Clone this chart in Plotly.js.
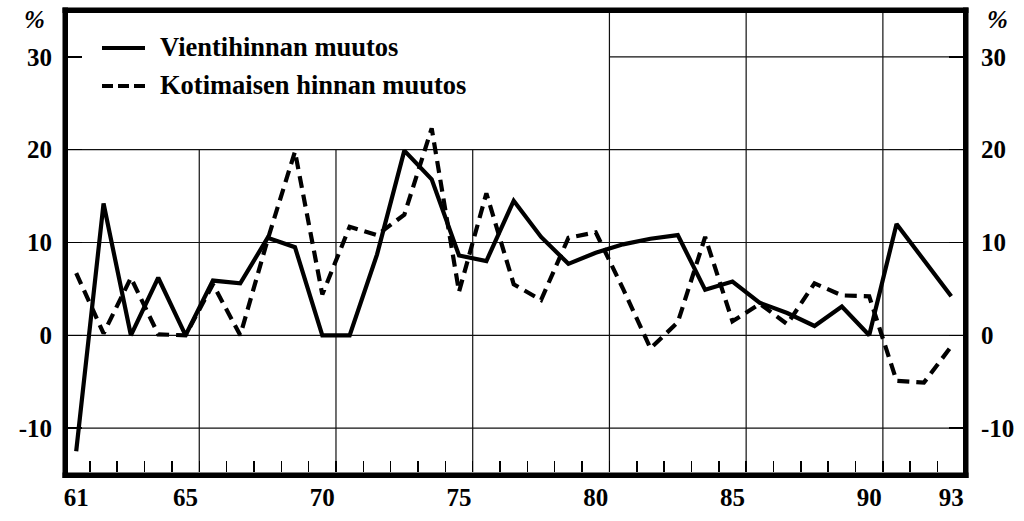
<!DOCTYPE html>
<html>
<head>
<meta charset="utf-8">
<script src="https://cdn.plot.ly/plotly-3.0.1.min.js"></script>
<style>html,body{margin:0;padding:0;background:#fff;}#chart{width:1024px;height:521px;}</style>
</head>
<body>
<div id="chart"></div>
<script>
// ---- data ----
var years = [61,62,63,64,65,66,67,68,69,70,71,72,73,74,75,76,77,78,79,80,81,82,83,84,85,86,87,88,89,90,91,92,93];
var vientihinta = [-12.5,14.2,0,6.2,0,5.9,5.6,10.5,9.5,0,0,8.7,19.9,16.8,8.6,8.0,14.5,10.6,7.7,8.9,9.8,10.4,10.8,4.9,5.8,3.5,2.4,1.0,3.1,0,12.0,8.1,4.2];
var kotimainen = [6.7,0.2,6.2,0.1,0,5.5,0,10.3,19.8,4.4,11.7,10.8,13.0,22.3,4.7,15.3,5.5,3.8,10.5,11.1,5.0,-1.4,1.4,10.6,1.5,3.4,1.2,5.6,4.3,4.2,-4.9,-5.1,-1.2];
var xTickVals = [61,65,70,75,80,85,90,93];
var xTickText = ['61','65','70','75','80','85','90','93'];
var yTickVals = [-10,0,10,20,30];
var yTickText = ['-10','0','10','20','30'];
var seriesNames = ['Vientihinnan muutos','Kotimaisen hinnan muutos'];
var unitLabel = '%';

// ---- layout geometry ----
var W = 1024, H = 521;
var mL = 68, mR = 61, mT = 13, mB = 49;
var pw = W - mL - mR, ph = H - mT - mB;
var xRange = [60.70, 93.43];
var yRange = [-14.73, 34.73];
function px2paperX(p){ return (p - mL) / pw; }
function px2paperY(p){ return (H - mB - p) / ph; }

var FONT = '"Liberation Serif", "Times New Roman", Times, serif';

var shapes = [];
var vgrid = [65.5,70.5,75.5,80.5,85.5,90.5];
vgrid.forEach(function(v){
  var top = v < 80 ? 20 : yRange[1];
  shapes.push({type:'line', layer:'below', xref:'x', yref:'y', x0:v, x1:v, y0:yRange[0], y1:top,
    line:{color:'#111', width:1.2}});
});
[-10,0,10,20].forEach(function(v){
  shapes.push({type:'line', layer:'below', xref:'x', yref:'y', x0:xRange[0], x1:xRange[1], y0:v, y1:v,
    line:{color:'#111', width:1.2}});
});
shapes.push({type:'line', layer:'below', xref:'x', yref:'y', x0:80.5, x1:xRange[1], y0:30, y1:30,
  line:{color:'#111', width:1.2}});

// frame as four filled bars
function bar(x0,y0,x1,y1){
  shapes.push({type:'rect', xref:'paper', yref:'paper', x0:px2paperX(x0), x1:px2paperX(x1),
    y0:px2paperY(y1), y1:px2paperY(y0), line:{width:0}, fillcolor:'#000'});
}
bar(62.5, 7.5, 68, 478);      // left
bar(963, 7.5, 968.5, 478);    // right
bar(62.5, 7.5, 968.5, 13);    // top
bar(62.5, 472.5, 968.5, 478); // bottom

// manual legend samples
shapes.push({type:'line', xref:'paper', yref:'paper', x0:px2paperX(102), x1:px2paperX(145),
  y0:px2paperY(48), y1:px2paperY(48), line:{color:'#000', width:3.8}});
shapes.push({type:'line', xref:'paper', yref:'paper', x0:px2paperX(102), x1:px2paperX(145),
  y0:px2paperY(86), y1:px2paperY(86), line:{color:'#000', width:4, dash:'11px,5px'}});

var annotations = [
  {xref:'paper', yref:'paper', x:px2paperX(158), y:px2paperY(47), xanchor:'left', yanchor:'middle',
   text:'<b>'+seriesNames[0]+'</b>', showarrow:false, font:{family:FONT, size:26.5, color:'#000'}},
  {xref:'paper', yref:'paper', x:px2paperX(158), y:px2paperY(85), xanchor:'left', yanchor:'middle',
   text:'<b>'+seriesNames[1]+'</b>', showarrow:false, font:{family:FONT, size:26.5, color:'#000'}},
  {xref:'paper', yref:'paper', x:px2paperX(34), y:px2paperY(20), xanchor:'center', yanchor:'middle',
   text:'<b><i>'+unitLabel+'</i></b>', showarrow:false, font:{family:FONT, size:25, color:'#000'}},
  {xref:'paper', yref:'paper', x:px2paperX(997), y:px2paperY(20), xanchor:'center', yanchor:'middle',
   text:'<b><i>'+unitLabel+'</i></b>', showarrow:false, font:{family:FONT, size:25, color:'#000'}}
];

var traces = [
  {x:years, y:vientihinta, type:'scatter', mode:'lines', name:seriesNames[0],
   line:{color:'#000', width:4.2}, hoverinfo:'x+y'},
  {x:years, y:kotimainen, type:'scatter', mode:'lines', name:seriesNames[1],
   line:{color:'#000', width:4.2, dash:'12px,7px'}, hoverinfo:'x+y'},
  {x:[years[0]], y:[null], type:'scatter', mode:'lines', yaxis:'y2', showlegend:false, hoverinfo:'skip'}
];

var tickFont = {family:FONT, size:25, color:'#000', weight:700};

var layout = {
  width:W, height:H,
  margin:{l:mL, r:mR, t:mT, b:mB, pad:0},
  paper_bgcolor:'#fff', plot_bgcolor:'#fff',
  showlegend:false,
  xaxis:{range:xRange, showgrid:false, zeroline:false, showline:false,
    tickmode:'array', tickvals:xTickVals, ticktext:xTickText, ticks:'', tickfont:tickFont, ticklabelstandoff:8,
    minor:{tickmode:'linear', tick0:61.5, dtick:1, ticks:'inside', ticklen:11, tickwidth:1.5, tickcolor:'#000', showgrid:false}},
  yaxis:{range:yRange, showgrid:false, zeroline:false, showline:false,
    tickmode:'array', tickvals:yTickVals, ticktext:yTickText, ticks:'inside', ticklen:14, tickwidth:1.3, tickcolor:'#000',
    tickfont:tickFont, ticklabelstandoff:15},
  yaxis2:{range:yRange, overlaying:'y', side:'right', showgrid:false, zeroline:false, showline:false,
    tickmode:'array', tickvals:yTickVals, ticktext:yTickText, ticks:'inside', ticklen:14, tickwidth:1.3, tickcolor:'#000',
    tickfont:tickFont, ticklabelstandoff:17},
  shapes:shapes,
  annotations:annotations
};

Plotly.newPlot('chart', traces, layout, {staticPlot:true, displayModeBar:false});
</script>
</body>
</html>
